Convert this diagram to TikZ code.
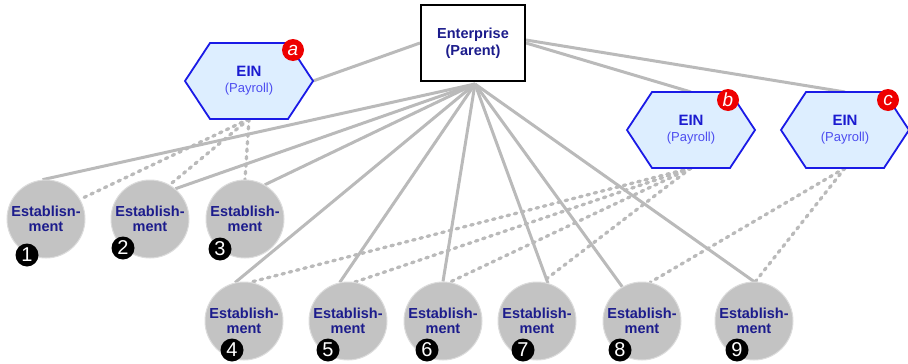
\documentclass[tikz,border=0pt]{standalone}
\usepackage{fontspec}
\setmainfont{Liberation Sans}
\usetikzlibrary{backgrounds}
\definecolor{lineg}{HTML}{BABABA}
\definecolor{circfill}{HTML}{C3C3C3}
\definecolor{circborder}{HTML}{DCDCDC}
\definecolor{navy}{HTML}{1C1C8C}
\definecolor{einc}{HTML}{1B1BD0}
\definecolor{payc}{HTML}{4D4DF0}
\definecolor{hexborder}{HTML}{1A1AE6}
\definecolor{hexfill}{HTML}{DDEEFF}
\definecolor{redbadge}{HTML}{EE0000}
\tikzset{
  estab/.style={circle, fill=circfill, draw=circborder, line width=1pt, minimum size=78pt, inner sep=0pt,
    font=\fontsize{14.5}{15}\selectfont\bfseries, text=navy, align=center},
  badge/.style={circle, fill=black, minimum size=23pt, inner sep=0pt, text=white,
    font=\fontsize{20}{20}\selectfont},
  redb/.style={circle, fill=redbadge, minimum size=22pt, inner sep=0pt, text=white,
    font=\fontsize{19}{19}\selectfont\itshape},
  solidl/.style={draw=lineg, line width=3pt},
  dashl/.style={draw=lineg, line width=3.3pt, dash pattern=on 2.5pt off 5pt, line cap=round},
  hexdraw/.style={draw=hexborder, fill=hexfill, line width=1.8pt, line join=miter},
  hexlabel/.style={inner sep=0pt, align=center, text=einc, font=\fontsize{15}{17}\selectfont\bfseries},
  entbox/.style={draw=black, fill=white, line width=2pt, minimum width=104pt, minimum height=76pt,
    inner sep=0pt, align=center, text=navy, font=\fontsize{14.5}{17}\selectfont\bfseries}
}
\newcommand\hexat[3]{%
  \draw[hexdraw] (#2-64,#3) -- (#2-39,#3-38) -- (#2+39,#3-38) -- (#2+64,#3) -- (#2+39,#3+38) -- (#2-39,#3+38) -- cycle;
  \node[hexlabel] (#1) at (#2,#3) {EIN\\[-1pt]{\fontsize{13}{14}\selectfont\mdseries\color{payc}(Payroll)}};
  \coordinate (#1b) at (#2,#3+38);
  \coordinate (#1t) at (#2,#3-38);
  \coordinate (#1r) at (#2+64,#3);
}
\begin{document}
\begin{tikzpicture}[x=1pt,y=-1pt]
\useasboundingbox (0,0) rectangle (908,364);

% Enterprise
\node[entbox] (E) at (473,43) {Enterprise\\(Parent)};
\coordinate (es) at (475,84);

% Hexagons
\hexat{ha}{249}{81}
\hexat{hb}{691}{130}
\hexat{hc}{845}{130}
\node[redb] (ra) at (293,50) {a};
\node[redb] (rb) at (728,100) {b};
\node[redb] (rc) at (888,100) {c};

% Establishments
\node[estab] (c1) at (46,219) {Establisn-\\ment};
\node[estab] (c2) at (150,219) {Establish-\\ment};
\node[estab] (c3) at (245,219) {Establish-\\ment};
\node[estab] (c4) at (244,321) {Establish-\\ment};
\node[estab] (c5) at (348,321) {Establish-\\ment};
\node[estab] (c6) at (443,321) {Establish-\\ment};
\node[estab] (c7) at (537,321) {Establish-\\ment};
\node[estab] (c8) at (642,321) {Establish-\\ment};
\node[estab] (c9) at (754,321) {Establish-\\ment};

% Number badges
\node[badge] (b1) at (27,255) {1};
\node[badge] (b2) at (123,248) {2};
\node[badge] (b3) at (220,249) {3};
\node[badge] (b4) at (232,350) {4};
\node[badge] (b5) at (328,350) {5};
\node[badge] (b6) at (427,350) {6};
\node[badge] (b7) at (523,350) {7};
\node[badge] (b8) at (620,350) {8};
\node[badge] (b9) at (737,350) {9};

\begin{scope}[on background layer]
  % enterprise to EINs
  \draw[solidl] (E.west) -- (har);
  \draw[solidl] (E.east) -- (hbt);
  \draw[solidl] ([yshift=3pt]E.east) -- (hct);
  % enterprise to establishments
  \draw[solidl] (es) -- (c1.95);
  \draw[solidl] (es) -- (c2.50);
  \draw[solidl] (es) -- (c3.60);
  \draw[solidl] (es) -- (c4.103);
  \draw[solidl] (es) -- (c5.102);
  \draw[solidl] (es) -- (c6.90);
  \draw[solidl] (es) -- (c7.74);
  \draw[solidl] (es) -- (c8.120);
  \draw[solidl] (es) -- (c9.90);
  % EIN a
  \draw[dashl] (hab) -- (c1.30);
  \draw[dashl] (hab) -- (c2.60);
  \draw[dashl] (hab) -- (c3.north);
  % EIN b
  \draw[dashl] (hbb) -- (c4.80);
  \draw[dashl] (hbb) -- (c5.80);
  \draw[dashl] (hbb) -- (c6.80);
  \draw[dashl] (hbb) -- (c7.82);
  % EIN c
  \draw[dashl] (hcb) -- (c8.78);
  \draw[dashl] (hcb) -- (c9.88);
\end{scope}
\end{tikzpicture}
\end{document}
